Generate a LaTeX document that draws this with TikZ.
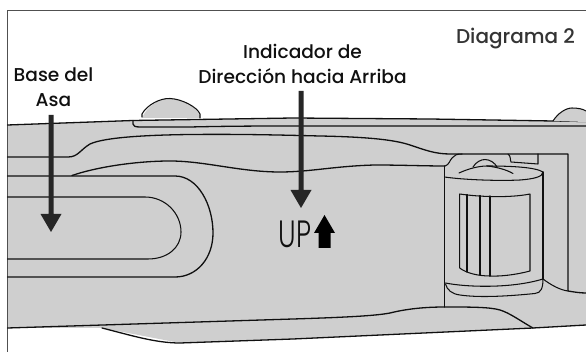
\documentclass[tikz,border=0pt]{standalone}
\usepackage{fontspec}
\setmainfont{Poppins Medium}
\newfontfamily\upfont{Poppins Light}
\definecolor{bodygray}{HTML}{CFCFCF}
\definecolor{ink}{HTML}{101010}
\definecolor{arrowink}{HTML}{262626}
\definecolor{framegray}{HTML}{505050}
\tikzset{
  outline/.style={draw=ink,line width=1.3pt,line join=round,line cap=round},
  thinline/.style={draw=ink,line width=1.05pt,line join=round,line cap=round},
  label/.style={text=ink,font=\fontsize{18.6}{24.5}\selectfont,align=center,inner sep=0pt},
  pointer/.style={fill=arrowink,draw=none}
}
\begin{document}
\begin{tikzpicture}[x=1pt,y=-1pt]
\useasboundingbox (0,0) rectangle (586,352);
\fill[white] (0,0) rectangle (586,352);
% body
\fill[bodygray] (7.5,125) -- (142,120) -- (293,118) -- (430,119) -- (553,121) -- (586,122)
  -- (586,325) -- (533,328) -- (293,339) -- (180,343) -- (102,328) -- (7.5,328) -- cycle;
% frame
\draw[framegray,line width=1.4pt] (7.5,352) -- (7.5,10.5) -- (586,10.5);
% top edge and bumps
\draw[outline] (7.5,125) -- (133,120.5) -- (293,118) -- (430,119) -- (553,121) -- (586,121.5);
\fill[bodygray] (142,118) .. controls (147,106) and (160,98) .. (170,98.5)
  .. controls (182,99) and (197,107) .. (200,116) -- (200,118) -- cycle;
\draw[thinline] (142,117) -- (142,114) .. controls (147,105) and (160,98) .. (170,98.5)
  .. controls (182,99) and (197,107) .. (200,114) -- (200,118);
\fill[bodygray] (553,121) .. controls (558,113) and (566,108) .. (572,108)
  .. controls (578,108) and (583,109) .. (586,111) -- (586,122) -- cycle;
\draw[thinline] (553,121) .. controls (558,113) and (566,108) .. (572,108)
  .. controls (578,108) and (583,109) .. (586,111);
% strip under the top edge
\draw[outline] (133,120.5) -- (133,124) .. controls (133,126) and (135,127) .. (140,127)
  -- (190,127) .. controls (230,126) and (270,126) .. (293,126) -- (586,126);
% upper contour
\draw[outline] (7.5,157) -- (68,157) .. controls (78,157) and (80,150) .. (90,144)
  .. controls (105,137) and (150,135) .. (190,134.5)
  .. controls (240,134) and (280,135) .. (320,136)
  .. controls (370,137) and (395,140) .. (410,145)
  .. controls (425,150) and (435,154) .. (450,154)
  -- (568,154) -- (568,291) .. controls (574,292) and (580,293) .. (586,293);
% second contour
\draw[outline] (72,175.5) .. controls (100,166) and (140,161) .. (170,161)
  .. controls (205,161) and (240,172) .. (280,172)
  .. controls (310,172) and (335,166) .. (375,165)
  .. controls (400,165) and (425,166) .. (445,166);
% handle base
\draw[outline] (7.5,176) -- (175,176) .. controls (198,176) and (213,205) .. (213,233)
  .. controls (213,258) and (197,277) .. (175,277) -- (7.5,277);
\draw[thinline] (7.5,197) -- (145,197) .. controls (165,197) and (181,213) .. (181,232)
  .. controls (181,248) and (167,259) .. (148,259) -- (7.5,259);
% bottom edges
\draw[outline] (7.5,328) -- (293,319) .. controls (340,317.5) and (375,316) .. (390,313)
  .. controls (410,308) and (430,307) .. (445,307)
  .. controls (470,307) and (490,307) .. (500,310)
  .. controls (510,313) and (522,322) .. (533,328);
\draw[outline] (102,328) .. controls (130,335) and (155,343) .. (180,343)
  -- (293,339) -- (533,328) -- (586,325);
% dial housing
\draw[thinline] (445,166) .. controls (449,165) and (450,160) .. (452,158)
  .. controls (454,155) and (457,154) .. (462,154);
\draw[thinline] (508,154) .. controls (511,156) and (510,160) .. (511,162)
  -- (538,164) -- (538,154);
\draw[thinline] (444.5,166) -- (444.5,307);
\draw[thinline] (543,172) -- (543,279);
\draw[thinline] (444.5,177) .. controls (465,180) and (500,181) .. (520,180)
  .. controls (533,179) and (543,177) .. (543,172);
\draw[thinline] (459,173) .. controls (470,168) and (480,166) .. (487,166)
  .. controls (510,166) and (535,167) .. (543,172);
\draw[thinline] (473,167) .. controls (476,162) and (481,159.5) .. (485,159.5)
  .. controls (490,159.5) and (495,163) .. (497,167);
\draw[thinline] (487,166) .. controls (497,167) and (507,170) .. (513,173.5);
% window
\draw[thinline] (459.7,194) .. controls (480,197) and (510,198) .. (530,194)
  -- (530,271) .. controls (515,275) and (500,276.5) .. (490,276)
  .. controls (478,276) and (466,273) .. (459.7,268) -- cycle;
\draw[thinline] (467,194.5) -- (467,272);
\draw[thinline] (480,195.5) -- (480,275);
\draw[thinline] (490,196) -- (490,276);
% dial base
\draw[thinline] (445.5,283) .. controls (465,287) and (510,289) .. (543,279);
\draw[thinline] (445.5,284) .. controls (447,290) and (452,294) .. (460,295)
  .. controls (480,298) and (510,296) .. (535,293.5)
  .. controls (541,293) and (543,288) .. (543,279);
\draw[thinline] (543,279) .. controls (551,285) and (560,290) .. (568,291);
% arrows
\path[pointer] (48.5,115) -- (53.5,115) -- (53.5,214) -- (61.5,214) -- (51,232)
  -- (40.5,214) -- (48.5,214) -- cycle;
\path[pointer] (298.5,91) -- (303.5,91) -- (303.5,190) -- (311.5,190) -- (301,208)
  -- (290.5,190) -- (298.5,190) -- cycle;
\fill[black] (318.5,248) -- (318.5,233) -- (314,233) -- (324.5,215) -- (335,233)
  -- (330.5,233) -- (330.5,248) -- cycle;
% texts
\node[label,anchor=center] (base) at (53.5,87) {Base del\\Asa};
\node[label,anchor=center] (indicador) at (302.5,64) {Indicador de\\Dirección hacia Arriba};
\node[label,anchor=center,text=ink!85,font=\fontsize{20}{24}\selectfont] (diagrama) at (515.5,38.5) {Diagrama 2};
\node[inner sep=0pt,anchor=center,text=ink] (up) at (295,234.5) {\scalebox{0.7}[1]{\upfont\fontsize{38}{38}\selectfont UP}};
\end{tikzpicture}
\end{document}
